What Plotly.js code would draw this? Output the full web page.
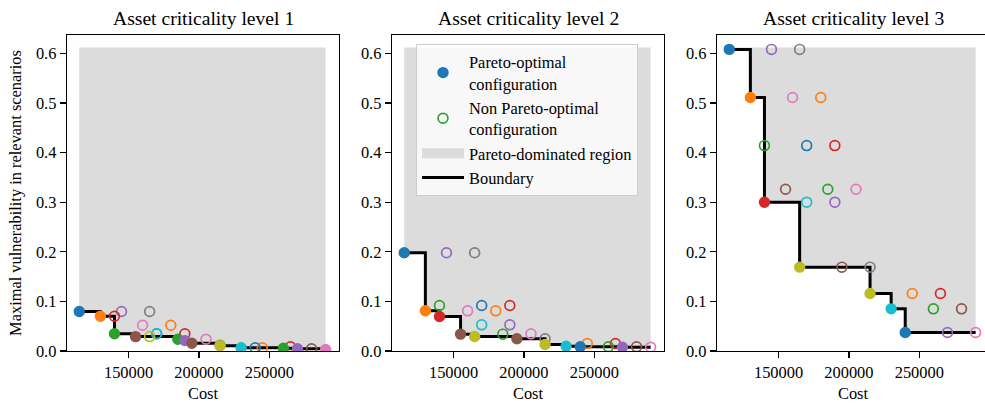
<!DOCTYPE html>
<html>
<head>
<meta charset="utf-8">
<script src="https://cdn.plot.ly/plotly-3.0.1.min.js"></script>
<style>
html, body { margin: 0; padding: 0; overflow: hidden; background: #fff; }
#chart { width: 992px; height: 405px; }
</style>
</head>
<body>
<div id="chart"></div>
<script>
// ---- data ----
const panelTitles = ["Asset criticality level 1", "Asset criticality level 2", "Asset criticality level 3"];
const costs = [115000, 130000, 140000, 140000, 145000, 155000, 160000, 165000, 165000, 170000,
               170000, 180000, 185000, 190000, 190000, 195000, 205000, 215000, 215000, 230000,
               240000, 245000, 260000, 265000, 270000, 280000, 290000];
const vulnLevel1 = [0.0796, 0.070, 0.0347, 0.070, 0.0796, 0.029, 0.052, 0.0796, 0.029, 0.0347,
                    0.0347, 0.052, 0.0238, 0.0347, 0.021, 0.0157, 0.0238, 0.0117, 0.0105, 0.0065,
                    0.0065, 0.0065, 0.0055, 0.0085, 0.0045, 0.0045, 0.003];
const vulnLevel2 = [0.198, 0.081, 0.0917, 0.0696, 0.198, 0.034, 0.081, 0.198, 0.0292, 0.0528,
                    0.0917, 0.081, 0.034, 0.0917, 0.0528, 0.0246, 0.0346, 0.0246, 0.013, 0.0097,
                    0.0085, 0.015, 0.0085, 0.015, 0.0077, 0.0085, 0.0077];
const vulnLevel3 = [0.608, 0.511, 0.414, 0.300, 0.608, 0.326, 0.511, 0.608, 0.169, 0.300,
                    0.414, 0.511, 0.326, 0.414, 0.300, 0.169, 0.326, 0.169, 0.116, 0.085,
                    0.0373, 0.116, 0.085, 0.116, 0.0373, 0.085, 0.0373];
const dominatedTop = 0.612;
const xTicks = [150000, 200000, 250000];
const yTicks = [0, 0.1, 0.2, 0.3, 0.4, 0.5, 0.6];
const legendNames = ["Pareto-optimal<br>configuration", "Non Pareto-optimal<br>configuration",
                     "Pareto-dominated region", "Boundary"];

// ---- style ----
const palette = ["#1f77b4", "#ff7f0e", "#2ca02c", "#d62728", "#9467bd",
                 "#8c564b", "#e377c2", "#7f7f7f", "#bcbd22", "#17becf"];
const FONT = "Liberation Serif, 'DejaVu Serif', Times New Roman, serif";
const FS = 16.4;
const regionColor = "#dcdcdc";

const levels = [vulnLevel1, vulnLevel2, vulnLevel3];
const traces = [];

function isPareto(i, v) {
  for (let j = 0; j < v.length; j++) {
    if (j === i) continue;
    if (costs[j] <= costs[i] && v[j] <= v[i] && (costs[j] < costs[i] || v[j] < v[i])) return false;
  }
  return true;
}

const minCost = Math.min(...costs), maxCost = Math.max(...costs);

levels.forEach((v, p) => {
  const xa = p === 0 ? "x" : "x" + (p + 1);
  const ya = p === 0 ? "y" : "y" + (p + 1);
  const idx = costs.map((c, i) => i);
  const par = idx.filter(i => isPareto(i, v)).sort((a, b) => costs[a] - costs[b] || v[b] - v[a]);
  const non = idx.filter(i => !isPareto(i, v)).reverse();
  const bx = par.map(i => costs[i]).concat([maxCost]);
  const by = par.map(i => v[i]).concat([v[par[par.length - 1]]]);

  // top edge of dominated region
  traces.push({x: [minCost, maxCost], y: [dominatedTop, dominatedTop], xaxis: xa, yaxis: ya,
    mode: "lines", line: {width: 0, color: "rgba(0,0,0,0)"}, showlegend: false, hoverinfo: "skip"});
  // dominated region (between boundary and top)
  traces.push({x: bx, y: by, xaxis: xa, yaxis: ya, mode: "lines", fill: "tonexty",
    fillcolor: regionColor, line: {width: 0, shape: "hv", color: "rgba(0,0,0,0)"},
    showlegend: false, hoverinfo: "skip"});
  // boundary
  traces.push({x: bx, y: by, xaxis: xa, yaxis: ya, mode: "lines",
    line: {width: 3, shape: "hv", color: "#000"},
    name: legendNames[3], legendgroup: "boundary", showlegend: p === 0, legendrank: 4});
  // non Pareto-optimal
  traces.push({x: non.map(i => costs[i]), y: non.map(i => v[i]), xaxis: xa, yaxis: ya,
    mode: "markers", showlegend: false,
    marker: {symbol: "circle-open", size: 9.8, color: non.map(i => palette[i % 10]),
             line: {width: 1.7}}});
  // Pareto-optimal
  traces.push({x: par.map(i => costs[i]), y: par.map(i => v[i]), xaxis: xa, yaxis: ya,
    mode: "markers", showlegend: false,
    marker: {symbol: "circle", size: 9.8, color: par.map(i => palette[i % 10]),
             line: {width: 1.6, color: par.map(i => palette[i % 10])}}});
});

// legend entries
traces.push({x: [null], y: [null], mode: "markers", name: legendNames[0], legendrank: 1,
  marker: {symbol: "circle", size: 9.8, color: palette[0], line: {width: 1.6, color: palette[0]}}});
traces.push({x: [null], y: [null], mode: "markers", name: legendNames[1], legendrank: 2,
  marker: {symbol: "circle-open", size: 9.8, color: palette[2], line: {width: 1.7}}});
traces.push({x: [null], y: [null], mode: "lines", name: legendNames[2], legendrank: 3,
  line: {width: 13, color: regionColor}});

const plotL = 67, plotR = 989, plotW = plotR - plotL;
const panelPx = [[67, 339], [392, 664], [717, 989]];
const domains = panelPx.map(d => [(d[0] - plotL) / plotW, (d[1] - plotL) / plotW]);

function xaxis(p) {
  return {domain: domains[p], anchor: p === 0 ? "y" : "y" + (p + 1),
    range: [106300, 299500], tickvals: xTicks, ticktext: xTicks.map(String),
    ticks: "outside", ticklen: 6, tickwidth: 1.3, tickcolor: "#000",
    showline: true, linecolor: "#000", linewidth: 1.3, mirror: true,
    showgrid: false, zeroline: false,
    tickfont: {family: FONT, size: FS, color: "#000"},
    title: {text: "Cost", font: {family: FONT, size: FS, color: "#000"}, standoff: 6}};
}
function yaxis(p) {
  const a = {anchor: p === 0 ? "x" : "x" + (p + 1), range: [0, 0.637],
    tickvals: yTicks, ticktext: yTicks.map(t => t.toFixed(1)),
    ticks: "outside", ticklen: 6, tickwidth: 1.3, tickcolor: "#000",
    showline: true, linecolor: "#000", linewidth: 1.3, mirror: true,
    showgrid: false, zeroline: false,
    tickfont: {family: FONT, size: FS, color: "#000"}};
  if (p === 0) a.title = {text: "Maximal vulnerability in relevant scenarios",
    font: {family: FONT, size: FS, color: "#000"}, standoff: 10};
  return a;
}

const layout = {
  width: 992, height: 405,
  margin: {l: plotL, r: 992 - plotR, t: 34.5, b: 53.5, pad: 0},
  paper_bgcolor: "#fff", plot_bgcolor: "#fff",
  font: {family: FONT, size: FS, color: "#000"},
  showlegend: true,
  legend: {x: (416 - plotL) / plotW, y: (351.5 - 43.3) / 317, xanchor: "left", yanchor: "top",
    bgcolor: "rgba(255,255,255,0.8)", bordercolor: "#cccccc", borderwidth: 1, itemwidth: 42,
    font: {family: FONT, size: FS, color: "#000"}, tracegroupgap: 0},
  xaxis: xaxis(0), xaxis2: xaxis(1), xaxis3: xaxis(2),
  yaxis: yaxis(0), yaxis2: yaxis(1), yaxis3: yaxis(2),
  annotations: panelTitles.map((t, p) => ({text: t, xref: (p === 0 ? "x" : "x" + (p + 1)) + " domain",
    x: 0.5, yref: "paper", y: 1, xanchor: "center", yanchor: "bottom", yshift: 4, showarrow: false,
    font: {family: FONT, size: 19.6, color: "#000"}}))
};

Plotly.newPlot("chart", traces, layout, {displayModeBar: false, staticPlot: true});
</script>
</body>
</html>
